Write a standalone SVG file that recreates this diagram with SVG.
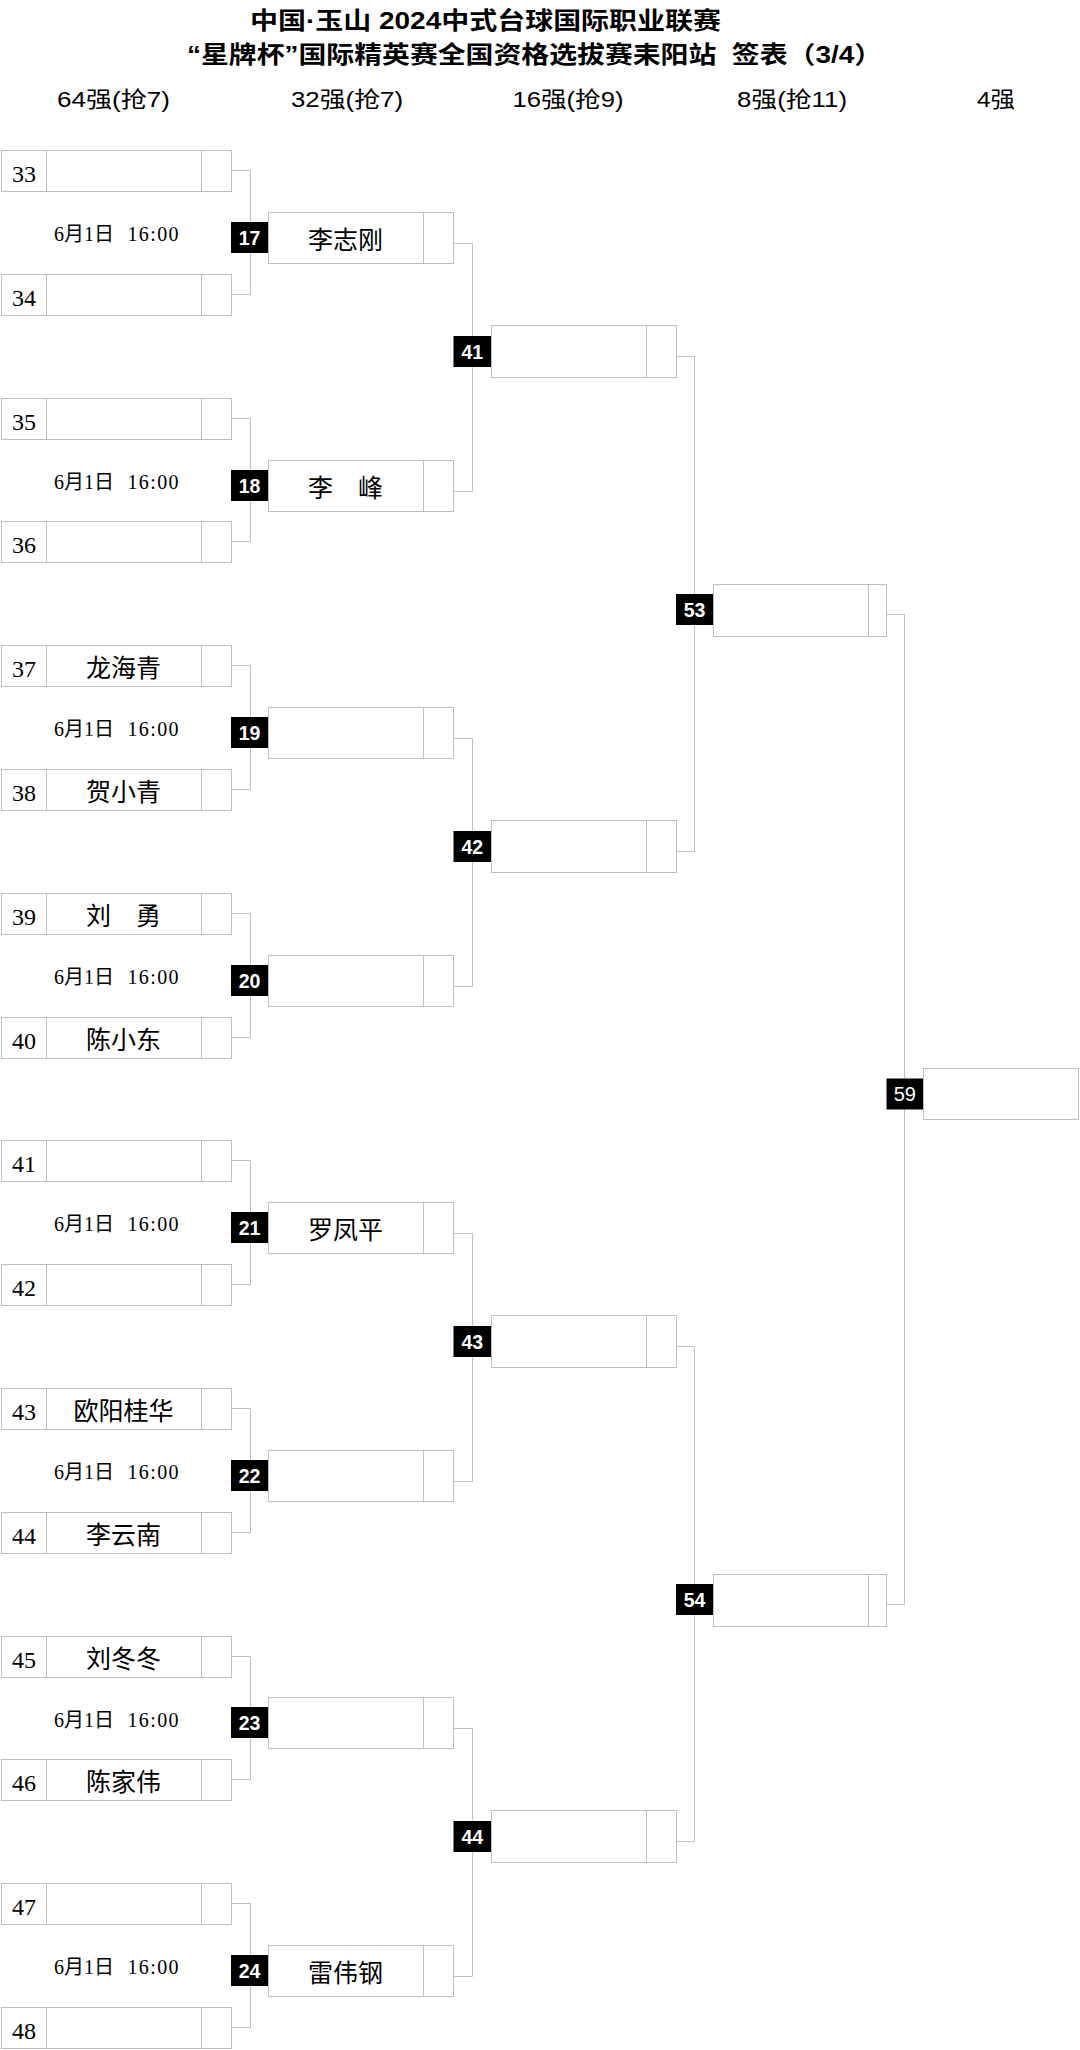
<svg xmlns="http://www.w3.org/2000/svg" width="1080" height="2050" viewBox="0 0 1080 2050">
<style>
.bg{fill:#fff}
.box{fill:#fff;stroke:#bfbfbf;stroke-width:1}
.dv{stroke:#bfbfbf;stroke-width:1}
.conn{fill:none;stroke:#bfbfbf;stroke-width:1}
.badge{fill:#000}
.bt{fill:#fff;font-family:"Liberation Sans",Arial,sans-serif;font-weight:bold;font-size:19.5px;text-anchor:middle}
.bt2{fill:#fff;font-family:"Liberation Sans",Arial,sans-serif;font-size:20px;text-anchor:middle}
.seed{fill:#000;font-family:"Liberation Serif","Noto Sans CJK SC",serif;font-size:24px;text-anchor:middle}
.name{fill:#000;font-family:"Noto Sans CJK SC",sans-serif;font-size:25px;text-anchor:middle}
.date{fill:#000;font-family:"Liberation Serif","Noto Sans CJK SC",serif;font-size:20px}
.title{fill:#000;font-family:"Liberation Sans","Noto Sans CJK SC",sans-serif;font-weight:bold;font-size:24px;text-anchor:middle}
.col{fill:#000;font-family:"Liberation Sans","Noto Sans CJK SC",sans-serif;font-size:22px;text-anchor:middle}
</style>
<defs>
<g id="b64"><rect class="box" x="0.5" y="0.5" width="230" height="41"/><line class="dv" x1="45.5" y1="0.5" x2="45.5" y2="41.5"/><line class="dv" x1="200.5" y1="0.5" x2="200.5" y2="41.5"/></g>
<g id="b32"><rect class="box" x="0.5" y="0.5" width="185" height="51"/><line class="dv" x1="155.5" y1="0.5" x2="155.5" y2="51.5"/></g>
<g id="b16"><rect class="box" x="0.5" y="0.5" width="185" height="52"/><line class="dv" x1="155.5" y1="0.5" x2="155.5" y2="52.5"/></g>
<g id="b8"><rect class="box" x="0.5" y="0.5" width="173" height="52"/><line class="dv" x1="155.5" y1="0.5" x2="155.5" y2="52.5"/></g>
</defs>
<rect class="bg" x="0" y="0" width="1080" height="2050"/>

<g id="header">
<text class="title" x="485.5" y="29" textLength="471" lengthAdjust="spacingAndGlyphs">中国·玉山 2024中式台球国际职业联赛</text>
<text class="title" x="534.5" y="63" textLength="695" lengthAdjust="spacingAndGlyphs" xml:space="preserve">“星牌杯”国际精英赛全国资格选拔赛耒阳站  签表（3/4）</text>
<text class="col" x="113.5" y="107" textLength="113" lengthAdjust="spacingAndGlyphs">64强(抢7)</text>
<text class="col" x="347" y="107" textLength="112" lengthAdjust="spacingAndGlyphs">32强(抢7)</text>
<text class="col" x="568" y="107" textLength="111" lengthAdjust="spacingAndGlyphs">16强(抢9)</text>
<text class="col" x="792" y="107" textLength="110" lengthAdjust="spacingAndGlyphs">8强(抢11)</text>
<text class="col" x="996" y="107" textLength="38" lengthAdjust="spacingAndGlyphs">4强</text>
</g>

<g id="connectors">
<path class="conn" d="M231.5 170.5H250.5V294.5H231.5"/>
<path class="conn" d="M231.5 418.5H250.5V541.5H231.5"/>
<path class="conn" d="M231.5 665.5H250.5V789.5H231.5"/>
<path class="conn" d="M231.5 913.5H250.5V1037.5H231.5"/>
<path class="conn" d="M231.5 1160.5H250.5V1284.5H231.5"/>
<path class="conn" d="M231.5 1408.5H250.5V1532.5H231.5"/>
<path class="conn" d="M231.5 1656.5H250.5V1779.5H231.5"/>
<path class="conn" d="M231.5 1903.5H250.5V2027.5H231.5"/>
<path class="conn" d="M453.5 243.5H472.5V491.5H453.5"/>
<path class="conn" d="M453.5 738.5H472.5V986.5H453.5"/>
<path class="conn" d="M453.5 1233.5H472.5V1481.5H453.5"/>
<path class="conn" d="M453.5 1728.5H472.5V1976.5H453.5"/>
<path class="conn" d="M676.5 356.5H694.5V851.5H676.5"/>
<path class="conn" d="M676.5 1346.5H694.5V1841.5H676.5"/>
<path class="conn" d="M886.5 614.5H904.5V1604.5H886.5"/>
</g>

<g id="dates" class="date" xml:space="preserve">
<text x="54" y="240.5">6月1日  <tspan x="127.5" textLength="51" lengthAdjust="spacing">16:00</tspan></text>
<text x="54" y="488.5">6月1日  <tspan x="127.5" textLength="51" lengthAdjust="spacing">16:00</tspan></text>
<text x="54" y="735.5">6月1日  <tspan x="127.5" textLength="51" lengthAdjust="spacing">16:00</tspan></text>
<text x="54" y="983.5">6月1日  <tspan x="127.5" textLength="51" lengthAdjust="spacing">16:00</tspan></text>
<text x="54" y="1230.5">6月1日  <tspan x="127.5" textLength="51" lengthAdjust="spacing">16:00</tspan></text>
<text x="54" y="1478.5">6月1日  <tspan x="127.5" textLength="51" lengthAdjust="spacing">16:00</tspan></text>
<text x="54" y="1726.5">6月1日  <tspan x="127.5" textLength="51" lengthAdjust="spacing">16:00</tspan></text>
<text x="54" y="1973.5">6月1日  <tspan x="127.5" textLength="51" lengthAdjust="spacing">16:00</tspan></text>
</g>

<g id="p33" transform="translate(1,150)"><use href="#b64"/><text class="seed" x="23" y="31.5">33</text></g>
<g id="p34" transform="translate(1,274)"><use href="#b64"/><text class="seed" x="23" y="31.5">34</text></g>
<g id="p35" transform="translate(1,398)"><use href="#b64"/><text class="seed" x="23" y="31.5">35</text></g>
<g id="p36" transform="translate(1,521)"><use href="#b64"/><text class="seed" x="23" y="31.5">36</text></g>
<g id="p37" transform="translate(1,645)"><use href="#b64"/><text class="seed" x="23" y="31.5">37</text><text class="name" x="122.5" y="32">龙海青</text></g>
<g id="p38" transform="translate(1,769)"><use href="#b64"/><text class="seed" x="23" y="31.5">38</text><text class="name" x="122.5" y="32">贺小青</text></g>
<g id="p39" transform="translate(1,893)"><use href="#b64"/><text class="seed" x="23" y="31.5">39</text><text class="name" x="122.5" y="32">刘　勇</text></g>
<g id="p40" transform="translate(1,1017)"><use href="#b64"/><text class="seed" x="23" y="31.5">40</text><text class="name" x="122.5" y="32">陈小东</text></g>
<g id="p41" transform="translate(1,1140)"><use href="#b64"/><text class="seed" x="23" y="31.5">41</text></g>
<g id="p42" transform="translate(1,1264)"><use href="#b64"/><text class="seed" x="23" y="31.5">42</text></g>
<g id="p43" transform="translate(1,1388)"><use href="#b64"/><text class="seed" x="23" y="31.5">43</text><text class="name" x="122.5" y="32">欧阳桂华</text></g>
<g id="p44" transform="translate(1,1512)"><use href="#b64"/><text class="seed" x="23" y="31.5">44</text><text class="name" x="122.5" y="32">李云南</text></g>
<g id="p45" transform="translate(1,1636)"><use href="#b64"/><text class="seed" x="23" y="31.5">45</text><text class="name" x="122.5" y="32">刘冬冬</text></g>
<g id="p46" transform="translate(1,1759)"><use href="#b64"/><text class="seed" x="23" y="31.5">46</text><text class="name" x="122.5" y="32">陈家伟</text></g>
<g id="p47" transform="translate(1,1883)"><use href="#b64"/><text class="seed" x="23" y="31.5">47</text></g>
<g id="p48" transform="translate(1,2007)"><use href="#b64"/><text class="seed" x="23" y="31.5">48</text></g>

<g id="m17" transform="translate(268,212)"><use href="#b32"/><rect class="badge" x="-37" y="10" width="37" height="31"/><text class="bt" x="-18.5" y="32.5">17</text><text class="name" x="77.5" y="37">李志刚</text></g>
<g id="m18" transform="translate(268,460)"><use href="#b32"/><rect class="badge" x="-37" y="10" width="37" height="31"/><text class="bt" x="-18.5" y="32.5">18</text><text class="name" x="77.5" y="37">李　峰</text></g>
<g id="m19" transform="translate(268,707)"><use href="#b32"/><rect class="badge" x="-37" y="10" width="37" height="31"/><text class="bt" x="-18.5" y="32.5">19</text></g>
<g id="m20" transform="translate(268,955)"><use href="#b32"/><rect class="badge" x="-37" y="10" width="37" height="31"/><text class="bt" x="-18.5" y="32.5">20</text></g>
<g id="m21" transform="translate(268,1202)"><use href="#b32"/><rect class="badge" x="-37" y="10" width="37" height="31"/><text class="bt" x="-18.5" y="32.5">21</text><text class="name" x="77.5" y="37">罗凤平</text></g>
<g id="m22" transform="translate(268,1450)"><use href="#b32"/><rect class="badge" x="-37" y="10" width="37" height="31"/><text class="bt" x="-18.5" y="32.5">22</text></g>
<g id="m23" transform="translate(268,1697)"><use href="#b32"/><rect class="badge" x="-37" y="10" width="37" height="31"/><text class="bt" x="-18.5" y="32.5">23</text></g>
<g id="m24" transform="translate(268,1945)"><use href="#b32"/><rect class="badge" x="-37" y="10" width="37" height="31"/><text class="bt" x="-18.5" y="32.5">24</text><text class="name" x="77.5" y="37">雷伟钢</text></g>

<g id="m41" transform="translate(491,325)"><use href="#b16"/><rect class="badge" x="-37.5" y="11" width="37.5" height="31"/><text class="bt" x="-18.75" y="33.5">41</text></g>
<g id="m42" transform="translate(491,820)"><use href="#b16"/><rect class="badge" x="-37.5" y="11" width="37.5" height="31"/><text class="bt" x="-18.75" y="33.5">42</text></g>
<g id="m43" transform="translate(491,1315)"><use href="#b16"/><rect class="badge" x="-37.5" y="11" width="37.5" height="31"/><text class="bt" x="-18.75" y="33.5">43</text></g>
<g id="m44" transform="translate(491,1810)"><use href="#b16"/><rect class="badge" x="-37.5" y="11" width="37.5" height="31"/><text class="bt" x="-18.75" y="33.5">44</text></g>

<g id="m53" transform="translate(713,584)"><use href="#b8"/><rect class="badge" x="-37" y="10" width="37" height="31"/><text class="bt" x="-18.5" y="32.5">53</text></g>
<g id="m54" transform="translate(713,1574)"><use href="#b8"/><rect class="badge" x="-37" y="10" width="37" height="31"/><text class="bt" x="-18.5" y="32.5">54</text></g>

<g id="m59" transform="translate(923,1068)"><rect class="box" x="0.5" y="0.5" width="155" height="51"/><rect class="badge" x="-36.5" y="10.5" width="36.5" height="31"/><text class="bt2" x="-18.25" y="33">59</text></g>
</svg>
